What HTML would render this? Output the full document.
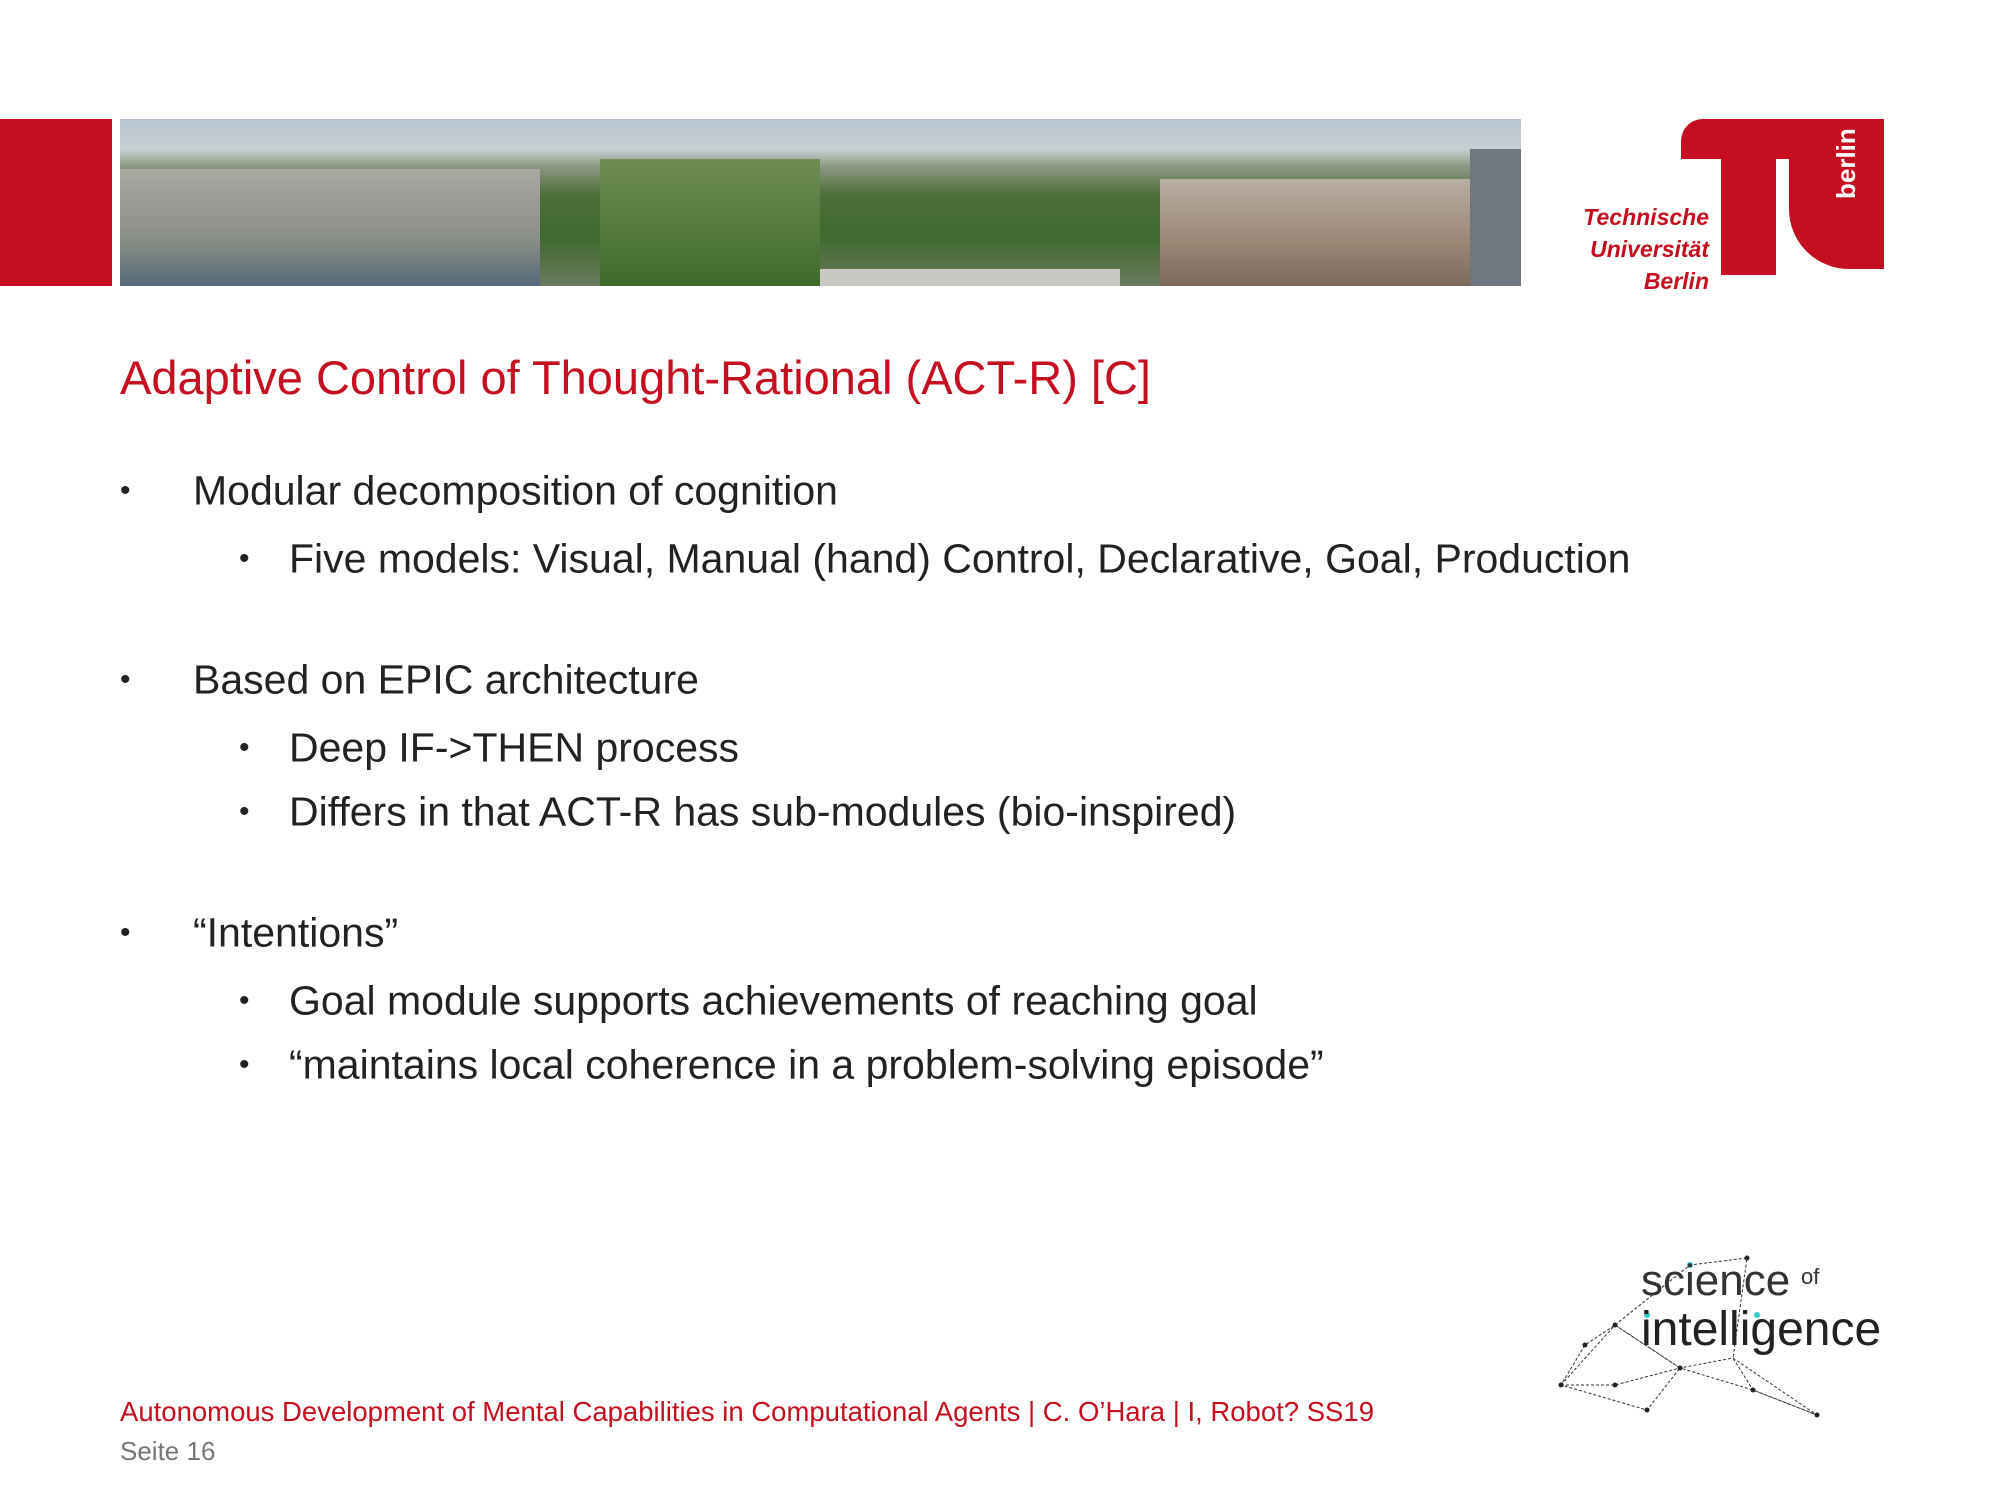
<!DOCTYPE html>
<html><head><meta charset="utf-8">
<style>
body{margin:0;width:2000px;height:1500px;background:#fff;position:relative;overflow:hidden;font-family:"Liberation Sans",sans-serif;}
.abs{position:absolute;}
.t{position:absolute;white-space:nowrap;color:#222;font-size:41px;line-height:1;transform:translateY(-50%);}
.b{position:absolute;font-size:30px;color:#222;transform:translateY(-50%);}
</style></head><body>
<div class="abs" style="left:0;top:119px;width:112px;height:167px;background:#c50e1f"></div>
<div class="abs" style="left:120px;top:119px;width:1401px;height:167px;overflow:hidden;background:linear-gradient(#b9c6d2 0%,#c8cfd4 18%,#8e9a86 28%,#4f6f3a 45%,#3e6a2e 70%,#6b7a5e 100%)">
 <div class="abs" style="left:0;top:50px;width:420px;height:117px;background:linear-gradient(#a9a9a2,#8a8f86 60%,#556a7a)"></div>
 <div class="abs" style="left:480px;top:40px;width:220px;height:127px;background:linear-gradient(#6f8d55,#3f6a2c)"></div>
 <div class="abs" style="left:700px;top:150px;width:300px;height:17px;background:#c9c9c4"></div>
 <div class="abs" style="left:1040px;top:60px;width:361px;height:107px;background:linear-gradient(#b8aea2,#9b8675 60%,#7a6a5a)"></div>
 <div class="abs" style="left:1350px;top:30px;width:51px;height:137px;background:#6f7780"></div>
</div>
<div class="abs" style="left:1579px;top:119px;width:305px;height:172px">
 <div class="abs" style="left:102px;top:0;width:150px;height:40px;background:#c50e1f;border-radius:22px 0 0 0"></div>
 <div class="abs" style="left:142px;top:30px;width:55px;height:126px;background:#c50e1f"></div>
 <div class="abs" style="left:210px;top:0;width:95px;height:150px;background:#c50e1f;border-radius:0 0 0 60px"></div>
 <div class="abs" style="left:262px;top:20px;color:#fff;font-weight:bold;font-size:26px;transform:rotate(-90deg) translate(-60px,-10px);transform-origin:left top">berlin</div>
 <div class="abs" style="left:0;top:82px;width:130px;text-align:right;color:#c50e1f;font-weight:bold;font-style:italic;font-size:23px;line-height:32px">Technische<br>Universität<br>Berlin</div>
</div>
<div class="abs" style="left:120px;top:350px;color:#c50e1f;font-size:47px;white-space:nowrap">Adaptive Control of Thought-Rational (ACT-R) [C]</div>

<div class="b" style="left:120px;top:491px">•</div>
<div class="t" style="left:193px;top:491px">Modular decomposition of cognition</div>
<div class="b" style="left:239px;top:559px">•</div>
<div class="t" style="left:289px;top:559px">Five models: Visual, Manual (hand) Control, Declarative, Goal, Production</div>
<div class="b" style="left:120px;top:680px">•</div>
<div class="t" style="left:193px;top:680px">Based on EPIC architecture</div>
<div class="b" style="left:239px;top:748px">•</div>
<div class="t" style="left:289px;top:748px">Deep IF-&gt;THEN process</div>
<div class="b" style="left:239px;top:812px">•</div>
<div class="t" style="left:289px;top:812px">Differs in that ACT-R has sub-modules (bio-inspired)</div>
<div class="b" style="left:120px;top:933px">•</div>
<div class="t" style="left:193px;top:933px">“Intentions”</div>
<div class="b" style="left:239px;top:1001px">•</div>
<div class="t" style="left:289px;top:1001px">Goal module supports achievements of reaching goal</div>
<div class="b" style="left:239px;top:1065px">•</div>
<div class="t" style="left:289px;top:1065px">“maintains local coherence in a problem-solving episode”</div>

<svg class="abs" style="left:1555px;top:1250px" width="335" height="170">
 <g stroke="#333" stroke-width="1" stroke-dasharray="3,2" fill="none">
  <polyline points="6,135 60,75 125,118 92,160 6,135 30,95 60,75 125,118 198,140 262,165 198,140 178,108 192,8 135,15 60,75"/>
  <polyline points="6,135 60,135 125,118 178,108 262,165"/>
 </g>
 <g fill="#222"><circle cx="6" cy="135" r="2.5"/><circle cx="60" cy="75" r="2.5"/><circle cx="125" cy="118" r="2.5"/><circle cx="92" cy="160" r="2.5"/><circle cx="198" cy="140" r="2.5"/><circle cx="262" cy="165" r="2.5"/><circle cx="30" cy="95" r="2.5"/><circle cx="60" cy="135" r="2.5"/><circle cx="192" cy="8" r="2.5"/></g>
 <g fill="#3cc"><circle cx="135" cy="15" r="3"/><circle cx="92" cy="65" r="3"/><circle cx="202" cy="65" r="3"/></g>
 <text x="86" y="45" font-family="Liberation Sans, sans-serif" font-size="44" fill="#333">science</text>
 <text x="246" y="34" font-family="Liberation Sans, sans-serif" font-size="22" fill="#333">of</text>
 <text x="86" y="95" font-family="Liberation Sans, sans-serif" font-size="48" fill="#222">intelligence</text>
</svg>

<div class="abs" style="left:120px;top:1396px;color:#c50e1f;font-size:27.5px;white-space:nowrap">Autonomous Development of Mental Capabilities in Computational Agents | C. O’Hara | I, Robot? SS19</div>
<div class="abs" style="left:120px;top:1436px;color:#777;font-size:26px;white-space:nowrap">Seite 16</div>
</body></html>
